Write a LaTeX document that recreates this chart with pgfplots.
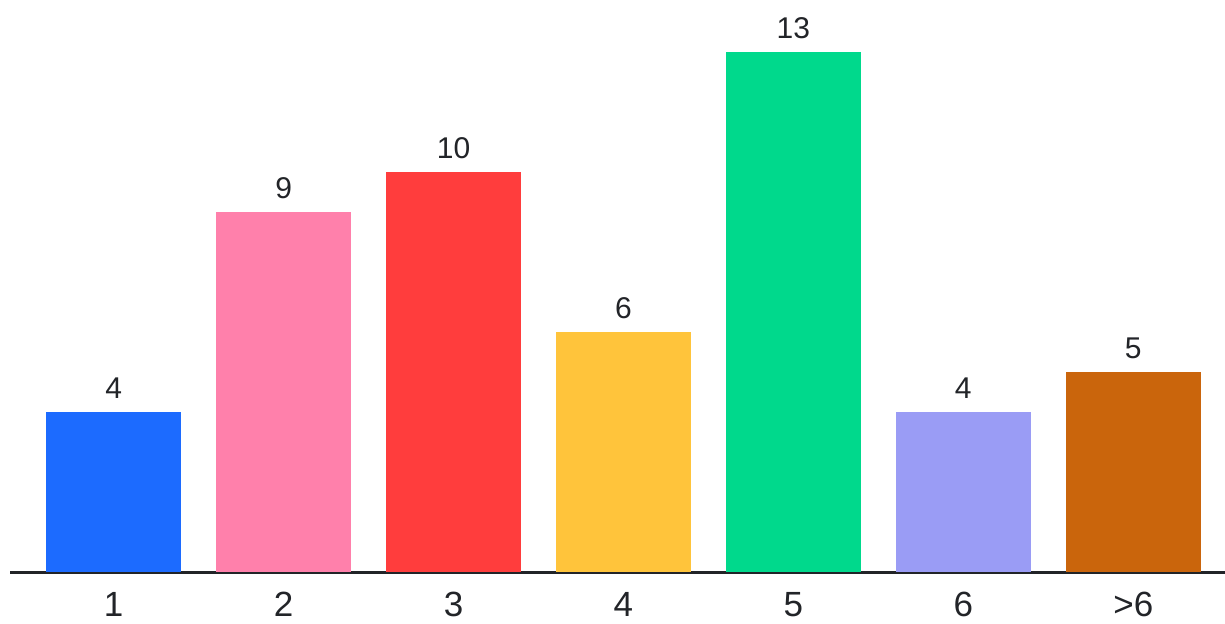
\documentclass[border=0pt]{standalone}
\usepackage{fontspec}
\setmainfont{Liberation Sans}
\usepackage{pgfplots}
\pgfplotsset{compat=1.18}
\definecolor{cA}{HTML}{1C6BFF}
\definecolor{cB}{HTML}{FF80AB}
\definecolor{cC}{HTML}{FF3D3D}
\definecolor{cD}{HTML}{FFC43B}
\definecolor{cE}{HTML}{00D98C}
\definecolor{cF}{HTML}{9A9CF5}
\definecolor{cG}{HTML}{CA650C}
\definecolor{axc}{HTML}{222428}
\begin{document}
\begin{tikzpicture}
\begin{axis}[
  scale only axis,
  width=607.5pt, height=286pt,
  xmin=-0.61, xmax=6.54,
  ymin=0, ymax=14.3,
  axis y line=none,
  axis x line*=bottom,
  x axis line style={-, line width=1.5pt, color=axc},
  xtick={0,1,2,3,4,5,6},
  xticklabels={1,2,3,4,5,6,>6},
  major tick length=0pt,
  xticklabel style={font=\fontsize{17.5}{20}\selectfont, text=axc, inner sep=0pt, anchor=north, yshift=-10pt},
  ybar, bar width=67.5pt, bar shift=0pt,
  nodes near coords,
  /pgf/number format/assume math mode=true,
  every node near coord/.append style={font=\fontsize{15}{18}\selectfont, text=axc, inner sep=0pt, anchor=south, yshift=6.5pt},
  clip=false,
]
\addplot[fill=cA, draw=none] coordinates {(0,4)};
\addplot[fill=cB, draw=none] coordinates {(1,9)};
\addplot[fill=cC, draw=none] coordinates {(2,10)};
\addplot[fill=cD, draw=none] coordinates {(3,6)};
\addplot[fill=cE, draw=none] coordinates {(4,13)};
\addplot[fill=cF, draw=none] coordinates {(5,4)};
\addplot[fill=cG, draw=none] coordinates {(6,5)};
\end{axis}
\pgfresetboundingbox
\path[use as bounding box] (-5pt,-25.5pt) rectangle (607.5pt,286pt);
\end{tikzpicture}
\end{document}
